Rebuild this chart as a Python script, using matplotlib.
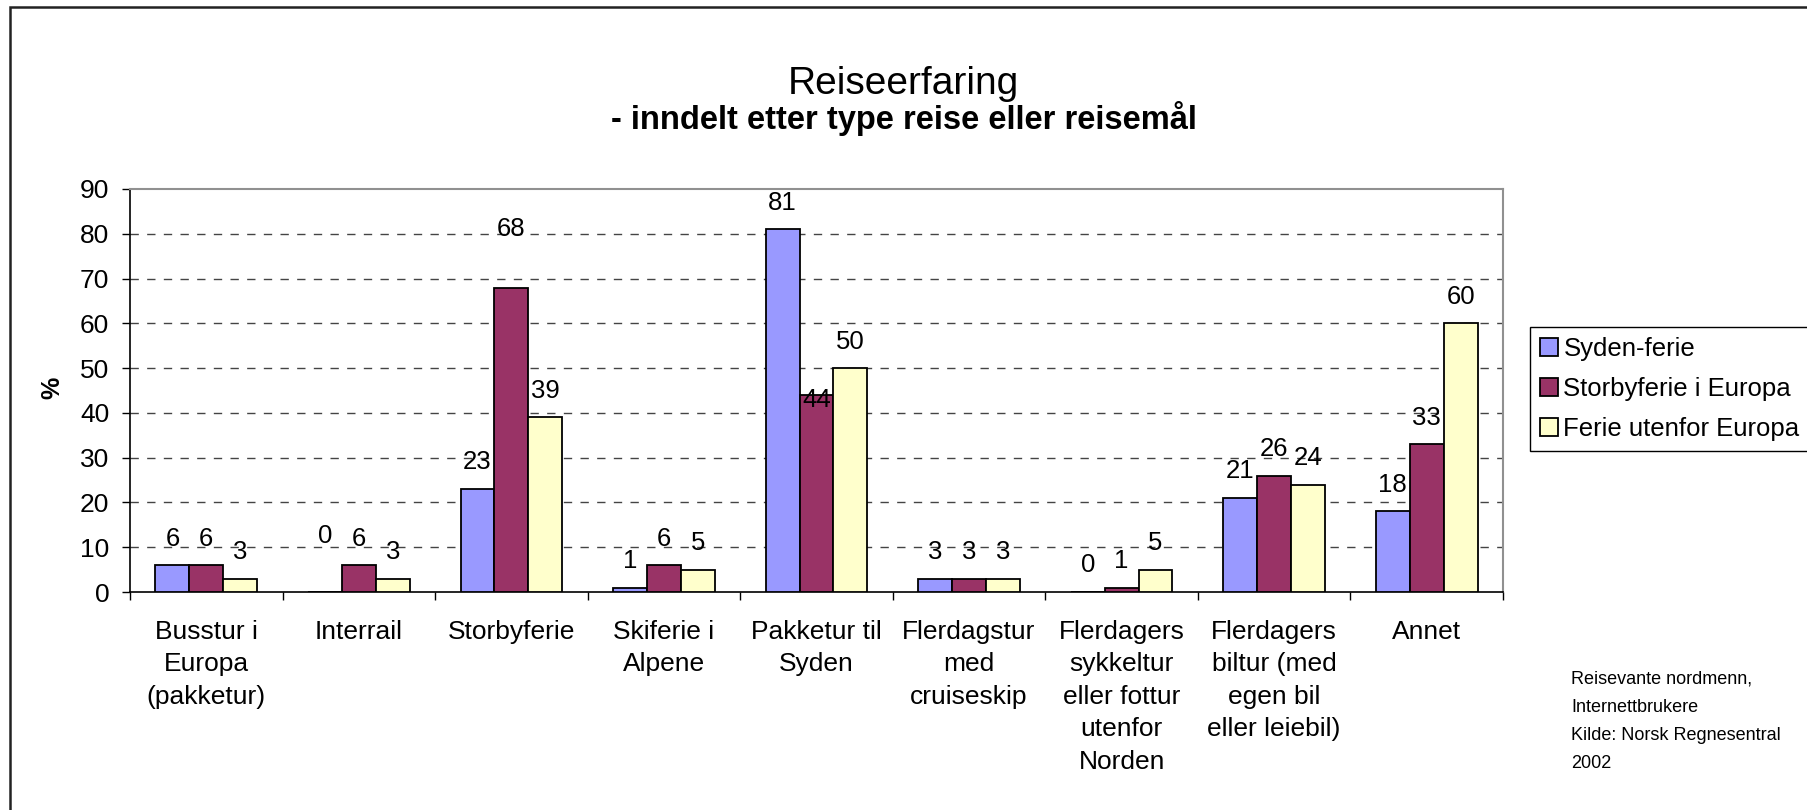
import matplotlib
matplotlib.use("Agg")
import matplotlib.pyplot as plt
import numpy as np
from matplotlib.patches import Rectangle

plt.rcParams['font.family'] = ['Liberation Sans', 'DejaVu Sans']

categories = ['Busstur i\nEuropa\n(pakketur)', 'Interrail', 'Storbyferie', 'Skiferie i\nAlpene',
              'Pakketur til\nSyden', 'Flerdagstur\nmed\ncruiseskip',
              'Flerdagers\nsykkeltur\neller fottur\nutenfor\nNorden',
              'Flerdagers\nbiltur (med\negen bil\neller leiebil)', 'Annet']
series_names = ['Syden-ferie', 'Storbyferie i Europa', 'Ferie utenfor Europa']
syden = [6, 0, 23, 1, 81, 3, 0, 21, 18]
storby = [6, 6, 68, 6, 44, 3, 1, 26, 33]
utenfor = [3, 3, 39, 5, 50, 3, 5, 24, 60]
yticks = [0, 10, 20, 30, 40, 50, 60, 70, 80, 90]
colors = ['#9999FF', '#993366', '#FFFFCC']

# manual label nudges (points) as in the original chart: (series index, category index) -> dy
label_nudges = {(1, 2): 23, (1, 4): -23, (0, 1): 21}

W, H = 1807, 810
fig = plt.figure(figsize=(W / 100, H / 100), dpi=100)
fig.patch.set_facecolor('white')

# outer chart border (top and left visible)
fig.patches.append(Rectangle((10 / W, -0.2), 1.5, 1.2 - 7 / H, transform=fig.transFigure,
                             fill=False, edgecolor='#222222', linewidth=1.8))

ax = fig.add_axes([130 / W, 1 - 592 / H, (1503 - 130) / W, (592 - 189) / H])

x = np.arange(len(categories)) + 0.5
bw = 0.2222
all_series = [syden, storby, utenfor]
for i, (vals, col, name) in enumerate(zip(all_series, colors, series_names)):
    xs = x + (i - 1) * bw
    ax.bar(xs, vals, width=bw, color=col, edgecolor='black', linewidth=1.3,
           label=name, zorder=3)
    for j, (xi, v) in enumerate(zip(xs, vals)):
        dy = 10.5 + label_nudges.get((i, j), 0)
        ax.annotate(str(v), (xi, v), xytext=(0, dy), textcoords='offset points',
                    ha='center', va='bottom', fontsize=18.5, color='black', zorder=4)

ax.set_xlim(0, len(categories))
ax.set_ylim(0, 90)
ax.set_yticks(yticks)
ax.set_yticklabels([str(t) for t in yticks])
ax.tick_params(axis='y', direction='out', length=6, width=1, labelsize=19, pad=9)

ax.set_xticks(x)
ax.set_xticklabels(categories)
ax.set_xticks(np.arange(len(categories) + 1), minor=True)
ax.tick_params(axis='x', which='major', length=0, labelsize=19, pad=20)
ax.tick_params(axis='x', which='minor', direction='out', length=6, width=1)
for lbl in ax.get_xticklabels():
    lbl.set_linespacing(1.45)

for yv in yticks[1:-1]:
    ax.axhline(yv, color='#444444', linewidth=1.0, linestyle=(0, (6, 6)), zorder=1)

ax.spines['left'].set_color('black')
ax.spines['left'].set_linewidth(1.2)
ax.spines['bottom'].set_color('black')
ax.spines['bottom'].set_linewidth(1.2)
ax.spines['top'].set_color('#909090')
ax.spines['top'].set_linewidth(1.5)
ax.spines['right'].set_color('#909090')
ax.spines['right'].set_linewidth(1.5)

fig.text(52 / W, 1 - 388 / H, '%', rotation=90, fontsize=18, fontweight='bold',
         ha='center', va='center')

fig.text(0.5, 1 - 94 / H, 'Reiseerfaring', fontsize=28, ha='center', va='baseline')
fig.text(0.5, 1 - 129 / H, '- inndelt etter type reise eller reisemål', fontsize=23.5,
         fontweight='bold', ha='center', va='baseline')

leg = ax.legend(loc='center left', bbox_to_anchor=(1530 / W, 1 - 389 / H),
                bbox_transform=fig.transFigure, fontsize=18.5, frameon=True,
                fancybox=False, edgecolor='black', framealpha=1,
                handlelength=0.7, handleheight=0.7, handletextpad=0.2,
                labelspacing=0.62, borderpad=0.4, borderaxespad=0)
leg.get_frame().set_linewidth(1.0)

fig.text(1571 / W, 1 - 671 / H,
         'Reisevante nordmenn,\nInternettbrukere\nKilde: Norsk Regnesentral\n2002',
         fontsize=13, ha='left', va='top', linespacing=1.85)

fig.savefig('out.png', dpi=100, facecolor='white')
